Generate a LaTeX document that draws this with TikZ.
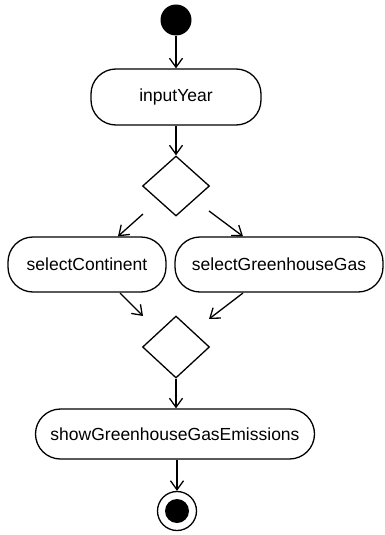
\documentclass[tikz,border=0pt]{standalone}
\usepackage{fontspec}
\setmainfont{Liberation Sans}
\usetikzlibrary{shapes.geometric,arrows.meta,calc}
\begin{document}
\begin{tikzpicture}[x=1pt,y=-1pt,
  line width=1.3pt,
  action/.style={draw,rectangle,rounded corners=25pt,inner sep=0pt,
    font=\fontsize{17.5}{20}\selectfont},
  decision/.style={draw,diamond,inner sep=0pt,minimum width=67pt,minimum height=60pt},
  flow/.style={-{Straight Barb[length=9pt,width=13pt]}}]
\useasboundingbox (0,0) rectangle (384,535);

% start and end states
\node[circle,fill=black,inner sep=0pt,minimum size=31pt] (start) at (176,20) {};
\node[circle,draw,inner sep=0pt,minimum size=39pt] (stop) at (177,511) {};
\fill (stop.center) circle (12pt);

% actions
\node[action,minimum width=170pt,minimum height=56pt] (iy) at (176,97) {inputYear};
\node[action,minimum width=158pt,minimum height=55pt] (sc) at (87,264.5) {selectContinent};
\node[action,minimum width=208pt,minimum height=55pt] (sg) at (279,264.5) {selectGreenhouseGas};
\node[action,minimum width=279pt,minimum height=50pt] (ge) at (175,434) {showGreenhouseGasEmissions};

% decision / merge nodes
\node[decision] (d1) at (176,186) {};
\node[decision,minimum height=62pt] (d2) at (176,347) {};

% free ends of the slanted flows
\coordinate (d1l) at (143,214);
\coordinate (d1r) at (209,211);
\coordinate (scout) at (120,293);
\coordinate (sgout) at (243,293);
\coordinate (d2l) at (143,316);
\coordinate (d2r) at (209,319);

% flows
\draw[flow] (start) -- (iy.north);
\draw[flow] (iy.south) -- (d1.north);
\draw[flow] (d1l) -- ([xshift=31pt]sc.north);
\draw[flow] (d1r) -- ([xshift=-36pt]sg.north);
\draw[flow] (scout) -- (d2l);
\draw[flow] (sgout) -- (d2r);
\draw[flow] (d2.south) -- (ge.north -| d2.south);
\draw[flow] (ge.south -| stop.north) -- (stop.north);
\end{tikzpicture}
\end{document}
